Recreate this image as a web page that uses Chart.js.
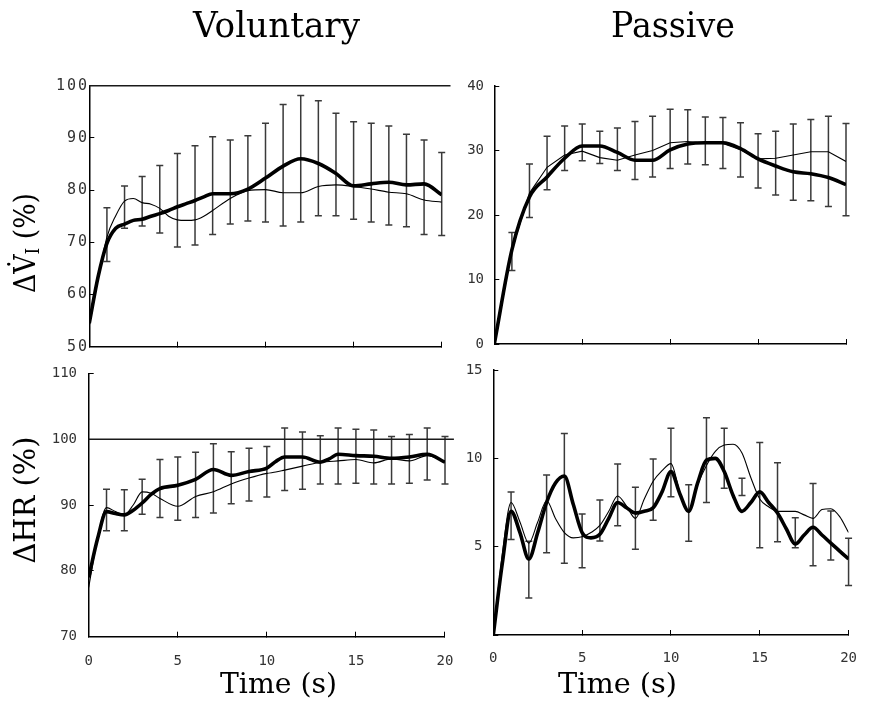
<!DOCTYPE html>
<html><head><meta charset="utf-8">
<script src="https://cdn.jsdelivr.net/npm/chart.js@4.4.1/dist/chart.umd.min.js"></script>
<style>
html,body{margin:0;padding:0;background:#fff;}
#wrap{position:relative;width:877px;height:702px;overflow:hidden;background:#fff;}
canvas{position:absolute;left:0;top:0;}
</style></head><body>
<div id="wrap">
<canvas id="cTL" width="877" height="702"></canvas>
<canvas id="cTR" width="877" height="702"></canvas>
<canvas id="cBL" width="877" height="702"></canvas>
<canvas id="cBR" width="877" height="702"></canvas>
</div>
<script>
// ---------- data ----------
const errTime = [1,2,3,4,5,6,7,8,9,10,11,12,13,14,15,16,17,18,19,20];
const xTickValues = [0,5,10,15,20];
const refLineX = [0, 20.5];
const refLineY = [100, 100];

// Voluntary, ΔV̇I (%)
const veVolYTicks = [50,60,70,80,90,100];
const veVolTime  = [0,0.5,1,1.5,2,2.5,3,3.5,4,4.5,5,5.5,6,6.5,7,8,9,10,11,12,13,14,15,16,17,18,19,20];
const veVolThick = [54.5,63.4,69.8,72.7,73.5,74.2,74.4,75.0,75.5,76.1,76.8,77.4,78.0,78.7,79.3,79.3,80.2,82.3,84.6,86.0,85.1,83.2,80.8,81.2,81.5,81.0,81.2,79.1];
const veVolThin  = [54.0,63.0,71.0,75.1,77.9,78.4,77.6,77.3,76.5,75.0,74.3,74.2,74.3,75.0,76.1,78.4,79.9,80.1,79.5,79.5,80.7,81.0,80.7,80.2,79.6,79.3,78.1,77.7];
const veVolErrLow  = [66.3,72.7,73.1,71.8,69.1,69.5,71.5,73.5,74.1,73.9,73.1,73.9,75.1,75.1,74.4,73.9,73.3,73.0,71.5,71.3];
const veVolErrHigh = [76.6,80.8,82.6,84.7,87.0,88.5,90.2,89.6,90.4,92.8,96.4,98.1,97.1,94.7,93.1,92.8,92.3,90.7,89.6,87.2];

// Passive, ΔV̇I (%)
const vePasYTicks = [0,10,20,30,40];
const vePasTime  = [0,1,2,3,4,5,6,7,8,9,10,11,12,13,14,15,16,17,18,19,20];
const vePasThick = [0,14.6,22.8,25.9,28.8,30.7,30.7,29.7,28.5,28.5,30.1,31.0,31.2,31.2,30.3,28.7,27.6,26.7,26.4,25.8,24.7];
const vePasThin  = [0,14.6,23.4,27.4,29.3,29.9,28.9,28.5,29.3,30.0,31.2,31.4,31.1,31.1,30.1,28.7,28.8,29.3,29.8,29.8,28.3];
const vePasErrLow  = [11.4,19.6,23.9,26.9,28.4,28.0,26.9,25.5,25.9,27.2,27.9,27.8,27.2,25.9,24.2,23.1,22.3,22.2,21.3,19.9];
const vePasErrHigh = [17.3,27.9,32.2,33.8,34.1,33.0,33.5,34.5,35.3,36.4,36.3,35.2,35.1,34.3,32.6,33.0,34.1,34.8,35.3,34.2];

// Voluntary, ΔHR (%)
const hrVolYTicks = [70,80,90,100,110];
const hrVolTime  = [0,0.5,1,1.5,2,2.5,3,3.5,4,5,6,7,8,9,10,10.5,11,12,13,13.5,14,15,16,17,18,19,20];
const hrVolThick = [79.0,84.9,89.0,88.7,88.5,89.2,90.3,91.6,92.5,93.0,93.9,95.4,94.5,95.1,95.6,96.6,97.3,97.3,96.5,97.0,97.7,97.5,97.4,97.1,97.3,97.7,96.5];
const hrVolThin  = [77.5,85.0,89.6,89.0,88.5,90.0,92.0,91.8,91.0,89.8,91.3,92.0,93.2,94.1,94.8,95.0,95.3,95.9,96.5,96.6,96.7,96.9,96.4,97.0,96.7,97.5,96.6];
const hrVolErrLow  = [86.1,86.1,88.6,88.1,87.7,88.1,88.8,90.2,90.6,91.2,92.2,92.4,93.2,93.2,93.3,93.2,93.2,93.3,93.8,93.2];
const hrVolErrHigh = [92.4,92.3,93.9,96.9,97.3,98.0,99.3,98.1,98.6,98.9,101.7,101.1,100.5,101.7,101.5,101.4,100.4,100.7,101.7,100.4];

// Passive, ΔHR (%)
const hrPasYTicks = [0,5,10,15];
const hrPasTime  = [0,0.5,1,1.5,2,2.5,3,3.5,4,4.5,5,5.5,6,6.5,7,7.5,8,8.5,9,9.5,10,10.5,11,11.5,12,12.5,13,13.5,14,14.5,15,15.5,16,16.5,17,17.5,18,18.5,19,19.5,20];
const hrPasThick = [0,4.0,7.0,5.8,4.3,5.8,7.5,8.6,9.0,7.4,5.8,5.5,5.7,6.6,7.5,7.2,6.9,7.0,7.2,8.1,9.25,8.0,7.0,8.6,9.9,10.0,9.25,7.9,7.0,7.5,8.1,7.5,6.9,6.0,5.15,5.66,6.1,5.66,5.2,4.75,4.3];
const hrPasThin  = [0,4.5,7.5,6.4,5.2,6.4,7.6,6.6,5.8,5.5,5.56,5.8,6.2,7.0,7.87,7.3,6.6,7.7,8.7,9.3,9.7,8.1,7.0,8.5,9.6,10.4,10.75,10.8,10.3,8.9,7.7,7.26,7.0,7.0,7.0,6.8,6.6,7.1,7.15,6.7,5.8];
const hrPasErrLow  = [5.4,2.1,4.66,4.06,3.8,5.32,6.19,4.85,6.5,7.83,5.3,7.5,8.3,7.9,4.94,5.28,4.94,3.92,4.25,2.8];
const hrPasErrHigh = [8.1,5.3,9.06,11.4,6.85,7.64,9.68,8.36,9.96,11.7,8.5,12.3,11.7,8.87,10.9,9.75,6.64,8.58,7.02,5.47];

// ---------- helpers ----------
const TICK_FONT = {family:'DejaVu Sans Mono', size:14};
const SERIF = 'DejaVu Serif';
const Y_BOX = 80;   // width reserved for y tick labels
const X_BOX = 50;   // height reserved for x tick labels

function errorBars(t, lo, hi) {
  return {
    id:'errorBars',
    beforeDatasetsDraw(chart) {
      const {ctx, scales:{x, y}} = chart;
      ctx.save();
      ctx.strokeStyle = '#3a3a3a'; ctx.lineWidth = 1.5;
      const cap = 3.5;
      t.forEach((tv, i) => {
        const px = x.getPixelForValue(tv);
        const a = y.getPixelForValue(lo[i]), b = y.getPixelForValue(hi[i]);
        ctx.beginPath();
        ctx.moveTo(px, a); ctx.lineTo(px, b);
        ctx.moveTo(px - cap, a); ctx.lineTo(px + cap, a);
        ctx.moveTo(px - cap, b); ctx.lineTo(px + cap, b);
        ctx.stroke();
      });
      ctx.restore();
    }
  };
}

function texts(items) {
  return {
    id:'texts',
    afterDraw(chart) {
      const ctx = chart.ctx;
      items.forEach(it => {
        ctx.save();
        ctx.letterSpacing = '0px';
        ctx.translate(it.x, it.y);
        if (it.rotate) ctx.rotate(it.rotate);
        let total = 0;
        it.parts.forEach(p => { ctx.font = p.font; p.w = ctx.measureText(p.text).width; total += p.w; });
        const sx = it.width ? it.width / total : 1;
        ctx.scale(sx, 1);
        ctx.fillStyle = '#000';
        ctx.textAlign = 'left';
        ctx.textBaseline = it.baseline || 'alphabetic';
        let cx = -total / 2;
        it.parts.forEach(p => { ctx.font = p.font; ctx.fillText(p.text, cx, p.dy || 0); cx += p.w; });
        ctx.restore();
      });
    }
  };
}

function spacing(px) {
  return { id:'spacing', beforeDraw(chart) { chart.ctx.letterSpacing = px; } };
}

function panel(id, o) {
  const ds = [];
  if (o.ref) ds.push({label:'reference', data: refLineX.map((x, i) => ({x, y: refLineY[i]})),
    borderColor:'#1a1a1a', borderWidth:1.5, pointRadius:0, tension:0, clip:false, order:3});
  ds.push({label:'thin', data: o.time.map((x, i) => ({x, y: o.thin[i]})),
    borderColor:'#000', borderWidth:1.1, pointRadius:0,
    cubicInterpolationMode: o.thinLinear ? 'default' : 'monotone', tension: o.thinLinear ? 0 : 0.4, order:2});
  ds.push({label:'thick', data: o.time.map((x, i) => ({x, y: o.thick[i]})),
    borderColor:'#000', borderWidth:3.6, pointRadius:0, cubicInterpolationMode:'monotone', order:1});

  const gridCfg = {drawOnChartArea:false, drawTicks:true, tickLength:-5, tickColor:'#000', tickWidth:1};
  const borderCfg = {display:true, color:'#000', width:1.5};
  const plugins = [errorBars(errTime, o.errLow, o.errHigh), texts(o.texts)];
  if (o.spacing) plugins.push(spacing(o.spacing));

  return new Chart(document.getElementById(id), {
    type:'line',
    data:{datasets: ds},
    options:{
      responsive:false, animation:false, events:[],
      layout:{padding:{left:o.area[0] - Y_BOX, right:877 - o.area[1], top:o.area[2], bottom:702 - o.area[3] - X_BOX}},
      plugins:{legend:{display:false}, tooltip:{enabled:false}},
      scales:{
        x:{type:'linear', min:0, max:20,
          afterBuildTicks: s => { s.ticks = xTickValues.map(v => ({value:v})); },
          afterFit: s => { s.height = X_BOX; },
          ticks:{display:o.xLabels, font:TICK_FONT, color:'#333', padding:o.xPad || 20, maxRotation:0, autoSkip:false},
          grid:gridCfg, border:borderCfg},
        y:{type:'linear', min:o.yTicks[0], max:o.yTicks[o.yTicks.length - 1],
          afterBuildTicks: s => { s.ticks = o.yTicks.map(v => ({value:v})); },
          afterFit: s => { s.width = Y_BOX; },
          ticks:{font:o.yFont || TICK_FONT, color:'#333', padding:o.yPad, autoSkip:false,
            callback: v => (o.hideZero && v === 0) ? '' : String(v)},
          grid:gridCfg, border:borderCfg}
      }
    },
    plugins
  });
}

// ---------- panels ----------
panel('cTL', {
  area:[89.3, 441.7, 85.7, 346.7], yTicks:veVolYTicks, ref:true,
  time:veVolTime, thick:veVolThick, thin:veVolThin, errLow:veVolErrLow, errHigh:veVolErrHigh,
  xLabels:false, yPad:5.3, spacing:'2px', yFont:{family:'DejaVu Sans Mono', size:15},
  texts:[
    {x:276.5, y:37, width:167, parts:[{text:'Voluntary', font:'36px ' + SERIF}]},
    {x:27, y:243, rotate:-Math.PI/2, width:100, baseline:'middle', parts:[
      {text:'ΔV\u0307', font:'30px ' + SERIF},
      {text:'I', font:'19px ' + SERIF, dy:7},
      {text:' (%)', font:'30px ' + SERIF}]}
  ]
});
panel('cTR', {
  area:[494.3, 846, 86, 344], yTicks:vePasYTicks,
  time:vePasTime, thick:vePasThick, thin:vePasThin, errLow:vePasErrLow, errHigh:vePasErrHigh,
  xLabels:false, yPad:15.3, thinLinear:true,
  texts:[{x:673, y:37, width:124, parts:[{text:'Passive', font:'36px ' + SERIF}]}]
});
panel('cBL', {
  area:[88.7, 445, 373.3, 636.7], yTicks:hrVolYTicks, ref:true,
  time:hrVolTime, thick:hrVolThick, thin:hrVolThin, errLow:hrVolErrLow, errHigh:hrVolErrHigh,
  xLabels:true, xPad:21.5, yPad:16.7,
  texts:[
    {x:27, y:500, rotate:-Math.PI/2, width:127, baseline:'middle', parts:[{text:'ΔHR (%)', font:'30px ' + SERIF}]},
    {x:278.5, y:693, width:117, parts:[{text:'Time (s)', font:'28px ' + SERIF}]}
  ]
});
panel('cBR', {
  area:[493.3, 855.3, 370, 635], yTicks:hrPasYTicks, hideZero:true,
  time:hrPasTime, thick:hrPasThick, thin:hrPasThin, errLow:hrPasErrLow, errHigh:hrPasErrHigh,
  xLabels:true, xPad:20, yPad:15.8,
  texts:[{x:617.5, y:693, width:119, parts:[{text:'Time (s)', font:'28px ' + SERIF}]}]
});
</script>
</body></html>
